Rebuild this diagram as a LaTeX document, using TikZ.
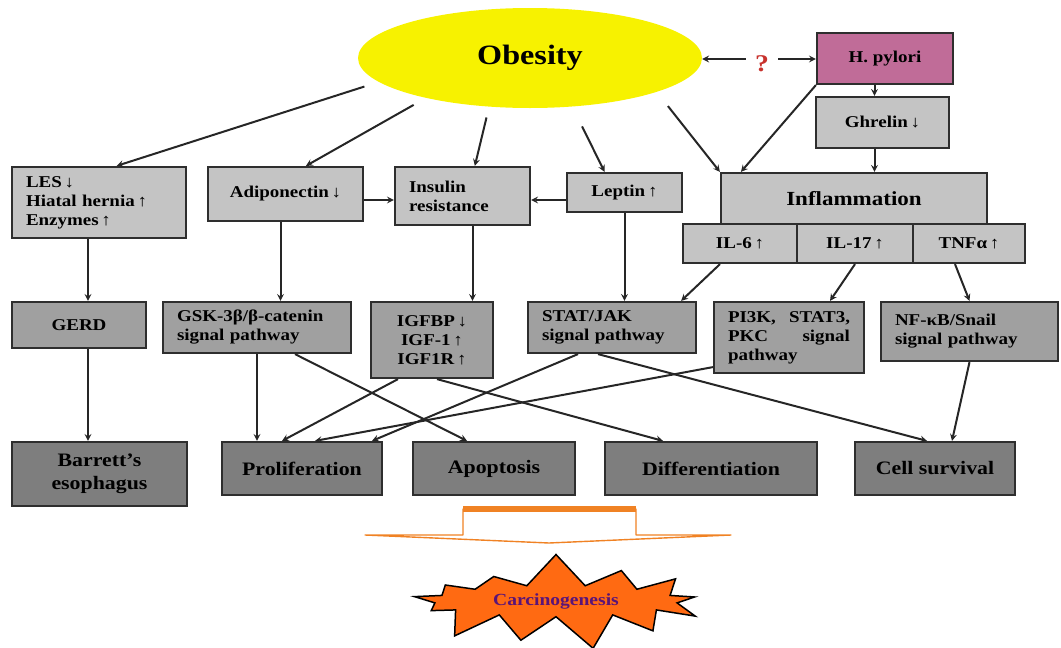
\documentclass[tikz,border=0pt]{standalone}
\usepackage{fontspec}
\setmainfont{Liberation Serif}[FakeStretch=1.15]
\usepackage{xcolor}
\usetikzlibrary{arrows}
\usetikzlibrary{calc}
\usetikzlibrary{shapes.geometric}
\usetikzlibrary{shapes.symbols}
\definecolor{obesyellow}{HTML}{F7F200}
\definecolor{pylori}{HTML}{C06C98}
\definecolor{lightbox}{HTML}{C4C4C4}
\definecolor{midbox}{HTML}{A0A0A0}
\definecolor{darkbox}{HTML}{7E7E7E}
\definecolor{boxline}{HTML}{2E2E2E}
\definecolor{qred}{HTML}{C8322D}
\definecolor{carrow}{HTML}{F08224}
\definecolor{starorange}{HTML}{FF6A12}
\definecolor{carcpurple}{HTML}{5A1478}
\tikzstyle{box} = [rectangle, draw=boxline, line width=2.2pt, inner xsep=14pt, font=\bfseries\fontsize{16.5}{19}\selectfont]
\tikzstyle{arrow} = [line width=2pt,draw=black!85,->,>=stealth]

\begin{document}
\begin{tikzpicture}[x=1pt,y=-1pt,
		light/.style = {box, fill=lightbox},
		mid/.style = {box, fill=midbox},
		dark/.style = {box, fill=darkbox, font=\bfseries\fontsize{19}{23}\selectfont}]
		\useasboundingbox (0,0) rectangle (1061,648);

		% Obesity and H. pylori
		\node[ellipse,fill=obesyellow,minimum width=344pt,minimum height=100pt,font=\bfseries\fontsize{28}{30}\selectfont] (obesity) at (530,58) {Obesity};
		\node[box,fill=pylori,minimum width=136pt,minimum height=51pt] (hp) at (885,58.5) {H. pylori};
		\node[text=qred,font=\bfseries\fontsize{24}{24}\selectfont,inner sep=9pt] (q) at (762,64) {?};

		% Second row
		\node[light,align=left,text width=146pt,minimum height=71pt] (les) at (99,202.5) {LES\,↓\\Hiatal hernia\,↑\\Enzymes\,↑};
		\node[light,minimum width=155pt,minimum height=54pt] (adipo) at (285.5,194) {Adiponectin\,↓};
		\node[light,align=left,text width=107pt,minimum height=58pt] (insulin) at (462.5,196) {Insulin\\resistance};
		\node[light,minimum width=115pt,minimum height=39pt] (leptin) at (624.5,192.5) {Leptin\,↑};
		\node[light,minimum width=133pt,minimum height=51pt] (ghrelin) at (882.5,122.5) {Ghrelin\,↓};
		\node[light,minimum width=266pt,minimum height=51pt,font=\bfseries\fontsize{20}{22}\selectfont] (inflam) at (854,198.5) {Inflammation};
		\node[light,minimum width=114pt,minimum height=39pt] (il6) at (740,243.5) {IL-6\,↑};
		\node[light,minimum width=116pt,minimum height=39pt] (il17) at (855,243.5) {IL-17\,↑};
		\node[light,minimum width=112pt,minimum height=39pt] (tnf) at (969,243.5) {TNFα\,↑};

		% Signal pathways
		\node[mid,minimum width=134pt,minimum height=46pt] (gerd) at (79,325) {GERD};
		\node[mid,align=left,text width=160pt,minimum height=51pt] (gsk) at (257,327.5) {GSK-3β/β-catenin\\signal pathway};
		\node[mid,align=center,minimum width=122pt,minimum height=76pt] (igf) at (432,340) {IGFBP\,↓\\IGF-1\,↑\\IGF1R\,↑};
		\node[mid,align=left,text width=140pt,minimum height=51pt] (stat) at (612,327.5) {STAT/JAK\\signal pathway};
		\node[mid,align=left,text width=122pt,minimum height=71pt] (pik) at (789,337.5) {PI3K,\hfill STAT3,\\PKC\hfill signal\\pathway};
		\node[mid,align=left,text width=149pt,minimum height=59pt] (nfkb) at (969.5,331.5) {NF-κB/Snail\\signal pathway};

		% Outcomes
		\node[dark,align=center,minimum width=175pt,minimum height=64pt] (barrett) at (99.5,474) {Barrett's\\esophagus};
		\node[dark,minimum width=160pt,minimum height=53pt] (prolif) at (302,468.5) {Proliferation};
		\node[dark,minimum width=162pt,minimum height=53pt] (apopt) at (494,468.5) {Apoptosis};
		\node[dark,minimum width=212pt,minimum height=53pt] (diff) at (711,468.5) {Differentiation};
		\node[dark,minimum width=160pt,minimum height=53pt] (surv) at (935,468.5) {Cell survival};

		% Big arrow down
		\draw[carrow,fill=white,line width=1.4pt,line join=round] (463,509) -- (636,509) -- (636,535) -- (731,535) -- (549,543) -- (365,535) -- (463,535) -- cycle;
		\draw[carrow,line width=6pt] (463,509) -- (636,509);

		% Carcinogenesis
		\node[starburst,starburst points=13,starburst point height=34pt,random starburst=7,fill=starorange,draw=black,line width=1.5pt,minimum width=312pt,minimum height=94pt,text=carcpurple,font=\bfseries\fontsize{17}{19}\selectfont] (carc) at (556,601) {Carcinogenesis};

		% Obesity links
		\draw[arrow,shorten <=15pt] (obesity.189) -- ($(les.north west)!0.6!(les.north east)$);
		\draw[arrow,shorten <=14pt] (obesity.201) -- ($(adipo.north west)!0.63!(adipo.north east)$);
		\draw[arrow,shorten <=11pt] (obesity.230) -- ($(insulin.north west)!0.59!(insulin.north east)$);
		\draw[arrow,shorten <=22pt] (obesity.311) -- ($(leptin.north west)!0.33!(leptin.north east)$);
		\draw[arrow,shorten <=18pt] (obesity.345) -- (inflam.north west);
		\draw[arrow] ([yshift=5pt]q.west) -- ([yshift=5pt]q.west -| obesity.east);
		\draw[arrow] ([yshift=5pt]q.east) -- ([yshift=5pt]q.east -| hp.west);

		% H. pylori links
		\draw[arrow] ([xshift=-8pt]ghrelin.north |- hp.south) -- ([xshift=-8pt]ghrelin.north);
		\draw[arrow] ([xshift=-8pt]ghrelin.south) -- ([xshift=-8pt]ghrelin.south |- inflam.north);
		\draw[arrow] (hp.south west) -- ($(inflam.north west)+(21,0)$);

		% Second row links
		\draw[arrow] ([yshift=-4pt]insulin.west -| adipo.east) -- ([yshift=-4pt]insulin.west);
		\draw[arrow] ([yshift=-4pt]insulin.east -| leptin.west) -- ([yshift=-4pt]insulin.east);
		\draw[arrow] ([xshift=-11pt]les.south) -- ([xshift=-11pt]les.south |- gerd.north);
		\draw[arrow] ([xshift=-5pt]adipo.south) -- ([xshift=-5pt]adipo.south |- gsk.north);
		\draw[arrow] ([xshift=10pt]insulin.south) -- ([xshift=10pt]insulin.south |- igf.north);
		\draw[arrow] (leptin.south) -- (leptin.south |- stat.north);
		\draw[arrow] ([xshift=-20pt]il6.south) -- ([xshift=-16pt]stat.north east);
		\draw[arrow] (il17.south) -- ([xshift=41pt]pik.north);
		\draw[arrow] ([xshift=-14pt]tnf.south) -- (nfkb.north);

		% Pathway links
		\draw[arrow] ([xshift=9pt]gerd.south) -- ([xshift=9pt]gerd.south |- barrett.north);
		\draw[arrow] (gsk.south) -- (gsk.south |- prolif.north);
		\draw[arrow] ([xshift=38pt]gsk.south) -- ([xshift=-27pt]apopt.north);
		\draw[arrow] ([xshift=-34pt]igf.south) -- ([xshift=-20pt]prolif.north);
		\draw[arrow] ([xshift=5pt]igf.south) -- ([xshift=-48pt]diff.north);
		\draw[arrow] ([xshift=-34pt]stat.south) -- ([xshift=70pt]prolif.north);
		\draw[arrow] ([xshift=-14pt]stat.south) -- ([xshift=-8pt]surv.north);
		\draw[arrow] ([yshift=7pt]pik.south west) -- ([xshift=13pt]prolif.north);
		\draw[arrow] (nfkb.south) -- ([xshift=17pt]surv.north);
\end{tikzpicture}
\end{document}
